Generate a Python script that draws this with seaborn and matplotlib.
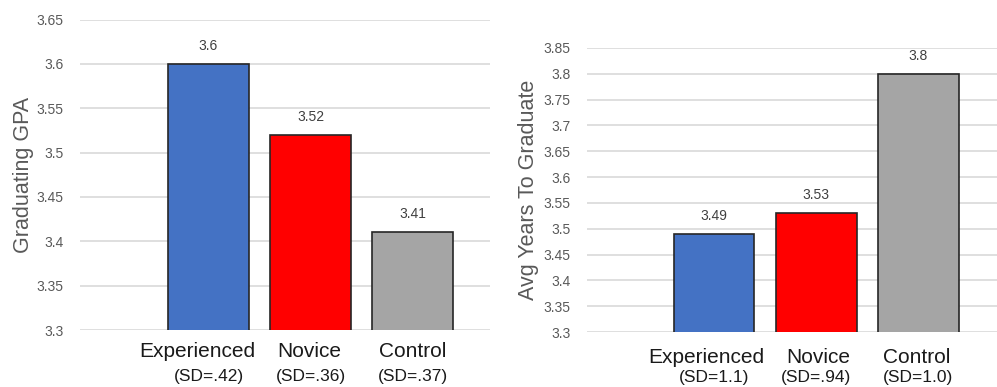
import matplotlib
matplotlib.use("Agg")
import matplotlib.pyplot as plt
import seaborn as sns
import pandas as pd

# ---- data ----
categories = ["Experienced", "Novice", "Control"]
gpa_values = [3.6, 3.52, 3.41]
gpa_sd = ["(SD=.42)", "(SD=.36)", "(SD=.37)"]
years_values = [3.49, 3.53, 3.8]
years_sd = ["(SD=1.1)", "(SD=.94)", "(SD=1.0)"]
gpa_ticks = [3.3, 3.35, 3.4, 3.45, 3.5, 3.55, 3.6, 3.65]
years_ticks = [3.3, 3.35, 3.4, 3.45, 3.5, 3.55, 3.6, 3.65, 3.7, 3.75, 3.8, 3.85]
gpa_tick_labels = ["3.3", "3.35", "3.4", "3.45", "3.5", "3.55", "3.6", "3.65"]
years_tick_labels = ["3.3", "3.35", "3.4", "3.45", "3.5", "3.55", "3.6", "3.65",
                     "3.7", "3.75", "3.8", "3.85"]

colors = ["#4472C4", "#FF0000", "#A5A5A5"]

sns.set_theme(style="white")
plt.rcParams["font.family"] = ["Liberation Sans", "DejaVu Sans"]

fig = plt.figure(figsize=(9.97, 3.87), dpi=100)
ax1 = fig.add_axes([80/997, 1-330/387, 410/997, (330-19.5)/387])
ax2 = fig.add_axes([587/997, 1-332/387, 410/997, (332-48)/387])


def draw(ax, values, sds, ticks, tick_labels, ylim, ylabel, xlim, lab_off, main_dy, sd_dy, lpad):
    df = pd.DataFrame({"cat": categories, "val": values})
    sns.barplot(data=df, x="cat", y="val", hue="cat", palette=colors, saturation=1,
                legend=False, width=0.79, edgecolor="#262626", linewidth=1.2,
                ax=ax, zorder=3)
    ax.set_ylim(*ylim)
    ax.set_xlim(*xlim)
    ax.set_yticks(ticks)
    ax.set_yticklabels(tick_labels, fontsize=10, color="#595959")
    ax.tick_params(axis="y", length=0, pad=12)
    ax.set_xticks([])
    ax.set_xlabel("")
    ax.set_ylabel(ylabel, fontsize=15.5, color="#595959", labelpad=lpad)
    ax.grid(axis="y", color="#D9D9D9", linewidth=1.2, zorder=0)
    ax.set_axisbelow(True)
    for s in ax.spines.values():
        s.set_visible(False)
    for i, v in enumerate(values):
        ax.annotate(f"{v:g}", xy=(i, v), xytext=(0, 13), textcoords="offset points",
                    ha="center", va="center", fontsize=10, color="#404040")
    for i, (c, sd) in enumerate(zip(categories, sds)):
        ax.annotate(c, xy=(i + lab_off[i], 0), xycoords=("data", "axes fraction"),
                    xytext=(0, main_dy), textcoords="offset points",
                    ha="center", va="center", fontsize=15, color="#1a1a1a",
                    annotation_clip=False)
        ax.annotate(sd, xy=(i, 0), xycoords=("data", "axes fraction"),
                    xytext=(0, sd_dy), textcoords="offset points",
                    ha="center", va="center", fontsize=12.5, color="#1a1a1a",
                    annotation_clip=False)


draw(ax1, gpa_values, gpa_sd, gpa_ticks, gpa_tick_labels, (3.3, 3.65),
     "Graduating GPA", (-1.26, 2.76), [-0.11, -0.01, 0.0], -15.8, -33.8, 2)
draw(ax2, years_values, years_sd, years_ticks, years_tick_labels, (3.3, 3.85),
     "Avg Years To Graduate", (-1.245, 2.77), [-0.08, 0.02, -0.02], -18.7, -33.1, 3)

fig.savefig("out.png", dpi=100)
